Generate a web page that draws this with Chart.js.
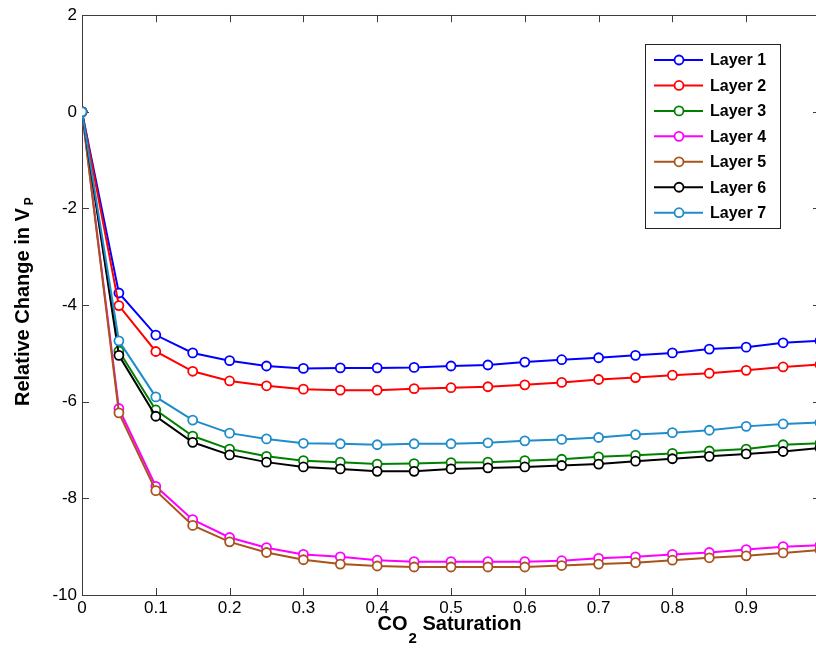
<!DOCTYPE html>
<html>
<head>
<meta charset="utf-8">
<script src="https://cdn.jsdelivr.net/npm/chart.js@4/dist/chart.umd.min.js"></script>
<style>
  html, body { margin: 0; padding: 0; overflow: hidden; background: #fff; }
  #wrap { width: 840px; height: 649px; }
</style>
</head>
<body>
<div id="wrap"><canvas id="chart" width="840" height="649"></canvas></div>
<script>
const saturation = [0, 0.05, 0.1, 0.15, 0.2, 0.25, 0.3, 0.35, 0.4, 0.45, 0.5,
                    0.55, 0.6, 0.65, 0.7, 0.75, 0.8, 0.85, 0.9, 0.95, 1.0];

const layer1 = [0, -3.75, -4.62, -4.99, -5.15, -5.26, -5.31, -5.30, -5.30, -5.29, -5.26,
                -5.24, -5.18, -5.13, -5.09, -5.04, -4.99, -4.91, -4.87, -4.78, -4.74];
const layer2 = [0, -4.01, -4.96, -5.37, -5.57, -5.67, -5.74, -5.76, -5.76, -5.73, -5.71,
                -5.69, -5.65, -5.60, -5.54, -5.50, -5.45, -5.41, -5.35, -5.28, -5.23];
const layer3 = [0, -4.95, -6.17, -6.71, -6.98, -7.13, -7.22, -7.25, -7.29, -7.28, -7.26,
                -7.25, -7.22, -7.19, -7.14, -7.11, -7.07, -7.02, -6.98, -6.89, -6.86];
const layer4 = [0, -6.14, -7.75, -8.44, -8.81, -9.02, -9.16, -9.21, -9.28, -9.31, -9.31,
                -9.31, -9.31, -9.29, -9.24, -9.21, -9.16, -9.12, -9.06, -9.00, -8.97];
const layer5 = [0, -6.23, -7.84, -8.56, -8.90, -9.12, -9.27, -9.36, -9.40, -9.42, -9.42,
                -9.42, -9.42, -9.39, -9.36, -9.33, -9.28, -9.23, -9.19, -9.13, -9.07];
const layer6 = [0, -5.04, -6.30, -6.84, -7.10, -7.25, -7.35, -7.39, -7.44, -7.44, -7.39,
                -7.37, -7.35, -7.32, -7.29, -7.23, -7.18, -7.13, -7.08, -7.03, -6.96];
const layer7 = [0, -4.74, -5.90, -6.38, -6.65, -6.77, -6.86, -6.87, -6.89, -6.87, -6.87,
                -6.85, -6.81, -6.78, -6.74, -6.68, -6.64, -6.59, -6.51, -6.46, -6.43];

const layerNames = ['Layer 1', 'Layer 2', 'Layer 3', 'Layer 4', 'Layer 5', 'Layer 6', 'Layer 7'];
const layerValues = [layer1, layer2, layer3, layer4, layer5, layer6, layer7];
const layerColors = ['#0000ff', '#ff0000', '#008000', '#ff00ff', '#a8541c', '#000000', '#1f8ccc'];

const xTitle = ['CO', '2', ' Saturation'];
const yTitle = ['Relative Change in V', 'P'];

const FONT = "'Liberation Sans', Arial, sans-serif";
const FRAME = '#3c3c3c';

const datasets = layerValues.map((vals, i) => ({
    label: layerNames[i],
    data: saturation.map((x, j) => ({ x, y: vals[j] })),
    borderColor: layerColors[i],
    backgroundColor: '#ffffff',
    pointBackgroundColor: '#ffffff',
    pointBorderColor: layerColors[i],
    pointBorderWidth: 1.8,
    pointRadius: 4.5,
    borderWidth: 2,
    tension: 0,
    fill: false,
    order: layerNames.length - i,
}));

// matlab-like frame with inward ticks, drawn under the lines
const framePlugin = {
    id: 'frame',
    beforeDatasetsDraw(chart) {
        const { ctx, chartArea: a, scales } = chart;
        ctx.save();
        ctx.strokeStyle = FRAME;
        ctx.lineWidth = 1;
        ctx.strokeRect(Math.round(a.left) + 0.5, Math.round(a.top) + 0.5,
            Math.round(a.right - a.left), Math.round(a.bottom - a.top));
        const len = 7;
        ctx.beginPath();
        scales.x.ticks.forEach((t) => {
            const px = Math.round(scales.x.getPixelForValue(t.value)) + 0.5;
            ctx.moveTo(px, a.bottom); ctx.lineTo(px, a.bottom - len);
            ctx.moveTo(px, a.top); ctx.lineTo(px, a.top + len);
        });
        scales.y.ticks.forEach((t) => {
            const py = Math.round(scales.y.getPixelForValue(t.value)) + 0.5;
            ctx.moveTo(a.left, py); ctx.lineTo(a.left + len, py);
            ctx.moveTo(a.right, py); ctx.lineTo(a.right - len, py);
        });
        ctx.stroke();
        ctx.restore();
    },
};

const titlesPlugin = {
    id: 'titles',
    afterDraw(chart) {
        const { ctx, chartArea: a } = chart;
        ctx.save();
        ctx.fillStyle = '#000';
        ctx.textBaseline = 'alphabetic';
        ctx.textAlign = 'left';

        // x title with subscript
        const big = `bold 20px ${FONT}`;
        const small = `bold 15px ${FONT}`;
        ctx.font = big;
        const w0 = ctx.measureText(xTitle[0]).width;
        const w2 = ctx.measureText(xTitle[2]).width;
        ctx.font = small;
        const w1 = ctx.measureText(xTitle[1]).width;
        let x = (a.left + a.right) / 2 - 2 - (w0 + w1 + w2) / 2;
        const base = 630;
        ctx.font = big; ctx.fillText(xTitle[0], x, base); x += w0;
        ctx.font = small; ctx.fillText(xTitle[1], x + 1, base + 13); x += w1 + 1;
        ctx.font = big; ctx.fillText(xTitle[2], x, base);

        // y title, rotated, with subscript
        ctx.translate(29, (a.top + a.bottom) / 2 + 2);
        ctx.rotate(-Math.PI / 2);
        ctx.font = big;
        const wy = ctx.measureText(yTitle[0]).width;
        ctx.fillText(yTitle[0], -wy / 2, 0);
        ctx.font = `bold 12px ${FONT}`;
        ctx.fillText(yTitle[1], wy / 2 + 3, 4);
        ctx.restore();
    },
};

const legendPlugin = {
    id: 'boxLegend',
    afterDraw(chart) {
        const { ctx, chartArea: a } = chart;
        const left = 645.5, top = 44.5, w = 135, h = 184;
        ctx.save();
        ctx.fillStyle = '#fff';
        ctx.fillRect(left, top, w, h);
        ctx.strokeStyle = '#222';
        ctx.lineWidth = 1;
        ctx.strokeRect(left, top, w, h);
        ctx.font = `bold 16px ${FONT}`;
        ctx.textBaseline = 'middle';
        chart.data.datasets.forEach((ds, i) => {
            const y = 60 + i * 25.45;
            ctx.strokeStyle = ds.borderColor;
            ctx.lineWidth = 2;
            ctx.beginPath();
            ctx.moveTo(654, y); ctx.lineTo(703, y);
            ctx.stroke();
            ctx.beginPath();
            ctx.arc(679, y, 4.5, 0, Math.PI * 2);
            ctx.fillStyle = '#fff';
            ctx.fill();
            ctx.lineWidth = 1.8;
            ctx.stroke();
            ctx.fillStyle = '#000';
            ctx.fillText(ds.label, 710, y + 1);
        });
        ctx.restore();
    },
};

new Chart(document.getElementById('chart'), {
    type: 'line',
    data: { datasets },
    plugins: [framePlugin, titlesPlugin, legendPlugin],
    options: {
        responsive: false,
        animation: false,
        layout: { padding: { top: 13, right: 20, left: 0, bottom: 0 } },
        plugins: {
            legend: { display: false },
            tooltip: { enabled: false },
            title: { display: false },
        },
        scales: {
            x: {
                type: 'linear',
                min: 0,
                max: 1,
                ticks: {
                    stepSize: 0.1,
                    color: '#000',
                    padding: 3,
                    maxRotation: 0,
                    font: { family: FONT, size: 17 },
                    callback: (v) => (v >= 0.999 ? '' : String(+v.toFixed(1))),
                },
                grid: { display: false, drawTicks: false },
                border: { display: false },
                afterFit(s) { s.height = 54; },
            },
            y: {
                min: -10,
                max: 2,
                ticks: {
                    stepSize: 2,
                    color: '#000',
                    padding: 5,
                    font: { family: FONT, size: 17 },
                    callback: (v) => String(v),
                },
                grid: { display: false, drawTicks: false },
                border: { display: false },
                afterFit(s) { s.width = 82; },
            },
        },
    },
});
</script>
</body>
</html>
